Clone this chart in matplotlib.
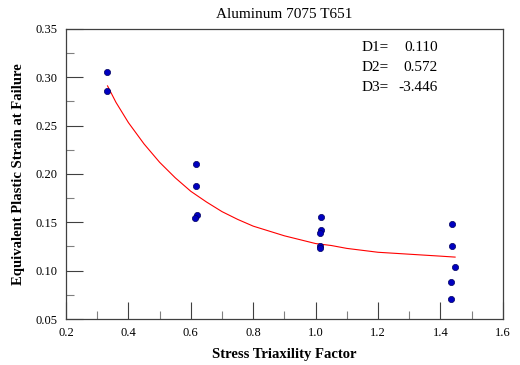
import numpy as np
import matplotlib
matplotlib.use('Agg')
import matplotlib.pyplot as plt
from matplotlib.ticker import MultipleLocator

# measured points (triaxiality, strain at failure)
triax = [0.330, 0.331, 0.618, 0.617, 0.619, 0.614,
         1.016, 1.018, 1.015, 1.014, 1.014,
         1.436, 1.438, 1.446, 1.435, 1.435]
strain = [0.305, 0.286, 0.210, 0.188, 0.158, 0.154,
          0.155, 0.142, 0.139, 0.125, 0.123,
          0.148, 0.125, 0.104, 0.088, 0.071]

# fitted curve
fit_x = [0.333, 0.36, 0.40, 0.45, 0.50, 0.55, 0.60, 0.65, 0.70, 0.75, 0.80, 0.85,
         0.90, 0.95, 1.00, 1.05, 1.10, 1.15, 1.20, 1.25, 1.30, 1.35, 1.40, 1.447]
fit_y = [0.291, 0.274, 0.253, 0.231, 0.212, 0.196, 0.182, 0.171, 0.161, 0.153,
         0.146, 0.141, 0.136, 0.132, 0.128, 0.126, 0.123, 0.121, 0.119, 0.118,
         0.117, 0.116, 0.115, 0.114]

params = ['D1=', 'D2=', 'D3=']
param_vals = ['0.110', '0.572', '-3.446']

plt.rcParams['font.family'] = ['Liberation Serif', 'DejaVu Serif']

fig = plt.figure(figsize=(5.2, 3.65), dpi=100)
ax = fig.add_axes([0.127, 0.126, 0.840, 0.795])

ax.plot(fit_x, fit_y, color='red', linewidth=0.8)
ax.scatter(triax, strain, s=20, color='#0000c0', edgecolors='#000060',
           linewidths=0.5, zorder=3)

ax.set_xlim(0.2, 1.6)
ax.set_ylim(0.05, 0.35)
ax.xaxis.set_major_locator(MultipleLocator(0.2))
ax.xaxis.set_minor_locator(MultipleLocator(0.1))
ax.yaxis.set_major_locator(MultipleLocator(0.05))
ax.yaxis.set_minor_locator(MultipleLocator(0.025))
ax.xaxis.set_major_formatter(plt.FuncFormatter(lambda v, p: '%.1f' % v))
ax.yaxis.set_major_formatter(plt.FuncFormatter(lambda v, p: '%.2f' % v))

ax.tick_params(which='major', direction='in', length=12, width=0.8,
               color='#404040', labelsize=9, pad=6)
ax.tick_params(which='minor', direction='in', length=6, width=0.8,
               color='#808080')
ax.tick_params(top=False, right=False, which='both')
for s in ax.spines.values():
    s.set_color('#404040')
    s.set_linewidth(0.9)

ax.set_title('Aluminum 7075 T651', fontsize=11, pad=8)
ax.set_xlabel('Stress Triaxility Factor', fontsize=10.5, fontweight='bold', labelpad=6)
ax.set_ylabel('Equivalent Plastic Strain at Failure', fontsize=10.5,
              fontweight='bold', labelpad=8)

for i in range(3):
    ax.text(0.677, 0.957 - i * 0.069, params[i], transform=ax.transAxes,
            fontsize=11, va='top', ha='left')
    ax.text(0.851, 0.957 - i * 0.069, param_vals[i], transform=ax.transAxes,
            fontsize=11, va='top', ha='right')

fig.savefig('out.png', dpi=100)
